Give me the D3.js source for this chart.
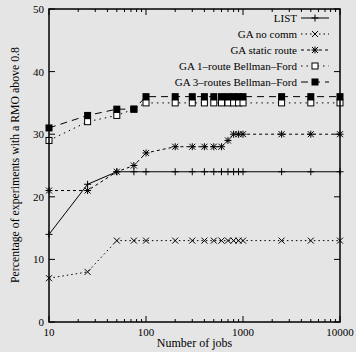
<!DOCTYPE html>
<html><head><meta charset="utf-8">
<script src="https://cdn.jsdelivr.net/npm/d3@7"></script>
<style>
html,body{margin:0;padding:0;background:#e5e5e5;}
svg{display:block;font-family:"Liberation Serif","DejaVu Serif",serif;}
</style></head>
<body>
<svg id="c" width="356" height="352"></svg>
<script>
const jobs = [10,25,50,75,100,200,300,400,500,600,700,800,900,1000,2500,5000,10000];
const listVals   = [14,22,24,24,24,24,24,24,24,24,24,24,24,24,24,24,24];
const noCommVals = [7,8,13,13,13,13,13,13,13,13,13,13,13,13,13,13,13];
const staticVals = [21,21,24,25,27,28,28,28,28,28,29,30,30,30,30,30,30];
const bf1Vals    = [29,32,33,34,35,35,35,35,35,35,35,35,35,35,35,35,35];
const bf3Vals    = [31,33,34,34,36,36,36,36,36,36,36,36,36,36,36,36,36];
const seriesNames = ["LIST","GA no comm","GA static route","GA 1\u2013route Bellman\u2013Ford","GA 3\u2013routes Bellman\u2013Ford"];
const yTicks = [0,10,20,30,40,50];
const xTicks = [10,100,1000,10000];
const xLabel = "Number of jobs";
const yLabel = "Percentage of experiments with a RMO above 0.8";

const svg = d3.select("#c");
const L=49,R=340,T=9,B=322;
const x = d3.scaleLog().domain([10,10000]).range([L,R]);
const y = d3.scaleLinear().domain([0,50]).range([B,T]);

const series = [
  {name:seriesNames[0], vals:listVals, dash:null, marker:"plus"},
  {name:seriesNames[1], vals:noCommVals, dash:"1.5,3", marker:"cross"},
  {name:seriesNames[2], vals:staticVals, dash:"3,3", marker:"star"},
  {name:seriesNames[3], vals:bf1Vals, dash:"1.5,4", marker:"osq"},
  {name:seriesNames[4], vals:bf3Vals, dash:"7,5", marker:"fsq"}
];

function drawMarker(g, type, cx, cy){
  const s=3.5;
  if(type==="plus"||type==="star"){
    g.append("line").attr("x1",cx-s).attr("x2",cx+s).attr("y1",cy).attr("y2",cy).attr("stroke","#000").attr("stroke-width",1);
    g.append("line").attr("x1",cx).attr("x2",cx).attr("y1",cy-s).attr("y2",cy+s).attr("stroke","#000").attr("stroke-width",1);
  }
  if(type==="cross"||type==="star"){
    const t=3;
    g.append("line").attr("x1",cx-t).attr("x2",cx+t).attr("y1",cy-t).attr("y2",cy+t).attr("stroke","#000").attr("stroke-width",1);
    g.append("line").attr("x1",cx-t).attr("x2",cx+t).attr("y1",cy+t).attr("y2",cy-t).attr("stroke","#000").attr("stroke-width",1);
  }
  if(type==="osq"){
    g.append("rect").attr("x",cx-3).attr("y",cy-3).attr("width",6).attr("height",6).attr("fill","#fff").attr("stroke","#000").attr("stroke-width",1);
  }
  if(type==="fsq"){
    g.append("rect").attr("x",cx-3.5).attr("y",cy-3.5).attr("width",7).attr("height",7).attr("fill","#000");
  }
}

// ticks
const tg = svg.append("g");
yTicks.forEach(v=>{
  tg.append("line").attr("x1",L).attr("x2",L+6).attr("y1",y(v)).attr("y2",y(v)).attr("stroke","#000");
  tg.append("line").attr("x1",R).attr("x2",R-6).attr("y1",y(v)).attr("y2",y(v)).attr("stroke","#000");
  tg.append("text").attr("x",L-5).attr("y",y(v)+4).attr("text-anchor","end").attr("font-size",11).text(v);
});
const minor=[];
for(let d=10; d<10000; d*=10) for(let k=2;k<=9;k++) minor.push(d*k);
minor.forEach(v=>{
  tg.append("line").attr("x1",x(v)).attr("x2",x(v)).attr("y1",B).attr("y2",B-3).attr("stroke","#000");
  tg.append("line").attr("x1",x(v)).attr("x2",x(v)).attr("y1",T).attr("y2",T+3).attr("stroke","#000");
});
xTicks.forEach(v=>{
  tg.append("line").attr("x1",x(v)).attr("x2",x(v)).attr("y1",B).attr("y2",B-6).attr("stroke","#000");
  tg.append("line").attr("x1",x(v)).attr("x2",x(v)).attr("y1",T).attr("y2",T+6).attr("stroke","#000");
  tg.append("text").attr("x",x(v)).attr("y",B+14).attr("text-anchor","middle").attr("font-size",11).text(v);
});
svg.append("text").attr("x",194.5).attr("y",347).attr("text-anchor","middle").attr("font-size",12).text(xLabel);
svg.append("text").attr("transform",`translate(19,165) rotate(-90)`).attr("text-anchor","middle").attr("font-size",11.8).text(yLabel);

// series
const line = d3.line().x((d,i)=>x(jobs[i])).y(d=>y(d));
series.forEach(s=>{
  const g = svg.append("g");
  g.append("path").attr("d",line(s.vals)).attr("fill","none").attr("stroke","#000").attr("stroke-width",1)
    .attr("stroke-dasharray",s.dash);
  s.vals.forEach((v,i)=>drawMarker(g,s.marker,x(jobs[i]),y(v)));
});

// legend
const lx = 297, ly0 = 18, ldy = 16;
series.forEach((s,i)=>{
  const g = svg.append("g");
  const yy = ly0 + i*ldy;
  g.append("text").attr("x",lx).attr("y",yy+4).attr("text-anchor","end").attr("font-size",11).text(s.name);
  g.append("line").attr("x1",301).attr("x2",329).attr("y1",yy).attr("y2",yy).attr("stroke","#000").attr("stroke-dasharray",s.dash);
  drawMarker(g,s.marker,315,yy);
});

// frame
svg.append("rect").attr("x",L).attr("y",T).attr("width",R-L).attr("height",B-T).attr("fill","none").attr("stroke","#000").attr("stroke-width",1.5);
</script>
</body></html>
